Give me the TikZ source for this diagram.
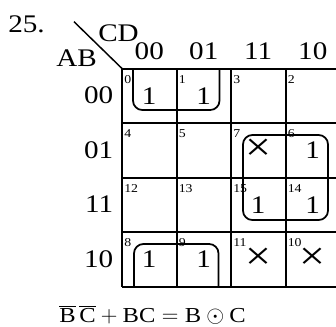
\documentclass[tikz,border=0pt]{standalone}
\usepackage{fontspec}
\setmainfont{Liberation Serif}[FakeStretch=1.15]
\usetikzlibrary{positioning}

\begin{document}
\begin{tikzpicture}[
    x=0.75pt, y=-0.75pt,
    kline/.style={line width=1.5pt},
    grp/.style={line width=1.3pt, rounded corners=7pt},
    big/.style={inner sep=0pt, font=\fontsize{19}{19}\selectfont},
    idx/.style={inner sep=0pt, anchor=base west, font=\fontsize{9}{9}\selectfont},
    val/.style={big, anchor=base},
    dc/.style={inner sep=0pt, font=\fontsize{30}{30}\selectfont}
  ]
  \useasboundingbox (0,0) rectangle (336,326);

  % Problem number
  \node[anchor=base west, inner sep=0pt, font=\fontsize{19}{19}\selectfont] (num) at (8,32) {25.};

  % Grid
  \coordinate (corner) at (122,68.5);
  \foreach \k in {0,...,4} {
    \draw[kline] (122+\k*54.5,68.5) -- (122+\k*54.5,286.5);
    \draw[kline] (122,68.5+\k*54.5) -- (340,68.5+\k*54.5);
  }

  % Variable labels
  \coordinate (diag) at (74,21.7);
  \draw[line width=1.1pt] (diag) -- (corner);
  \node[big, anchor=base west] (cd) at (98,41) {CD};
  \node[big, anchor=base east] (ab) at (97,66) {AB};

  % Column and row headers
  \foreach \c/\t in {0/00,1/01,2/11,3/10}
    \node[big, anchor=base] (col\c) at (149.25+\c*54.5,59.5) {\t};
  \foreach \r/\t in {0/00,1/01,2/11,3/10}
    \node[big, anchor=base east] (row\r) at (113.5,103.5+\r*54.5) {\t};

  % Cell numbers
  \foreach \r/\a in {0/0,1/1,2/3,3/2}
    \foreach \c/\b in {0/0,1/1,2/3,3/2} {
      \pgfmathtruncatemacro\n{4*\a+\b}
      \node[idx] (i\r\c) at (124+\c*54.5,83+\r*54.5) {\n};
    }

  % Ones and don't cares
  \foreach \r/\c in {0/0,0/1,1/3,2/2,2/3,3/0,3/1}
    \node[val] (v\r\c) at (149.25+\c*54.5,104+\r*54.5) {1};
  \foreach \r/\c in {1/2,3/2,3/3}
    \node[dc] (x\r\c) at (149.25+\c*54.5,95.75+\r*54.5) {×};

  % Groups
  \draw[grp] (133,68.5) -- (133,110) -- (219.5,110) -- (219.5,68.5);
  \draw[grp] (134,286.5) -- (134,244) -- (218.5,244) -- (218.5,286.5);
  \draw[grp] (243,135) rectangle (328,220);

  % Result
  \node[anchor=base west, inner sep=0pt, font=\fontsize{16}{16}\selectfont] (eq) at (59,322.5)
    {$\overline{\mbox{B}}\,\overline{\mbox{C}}+\mbox{BC}=\mbox{B}\odot\mbox{C}$};

\end{tikzpicture}
\end{document}
